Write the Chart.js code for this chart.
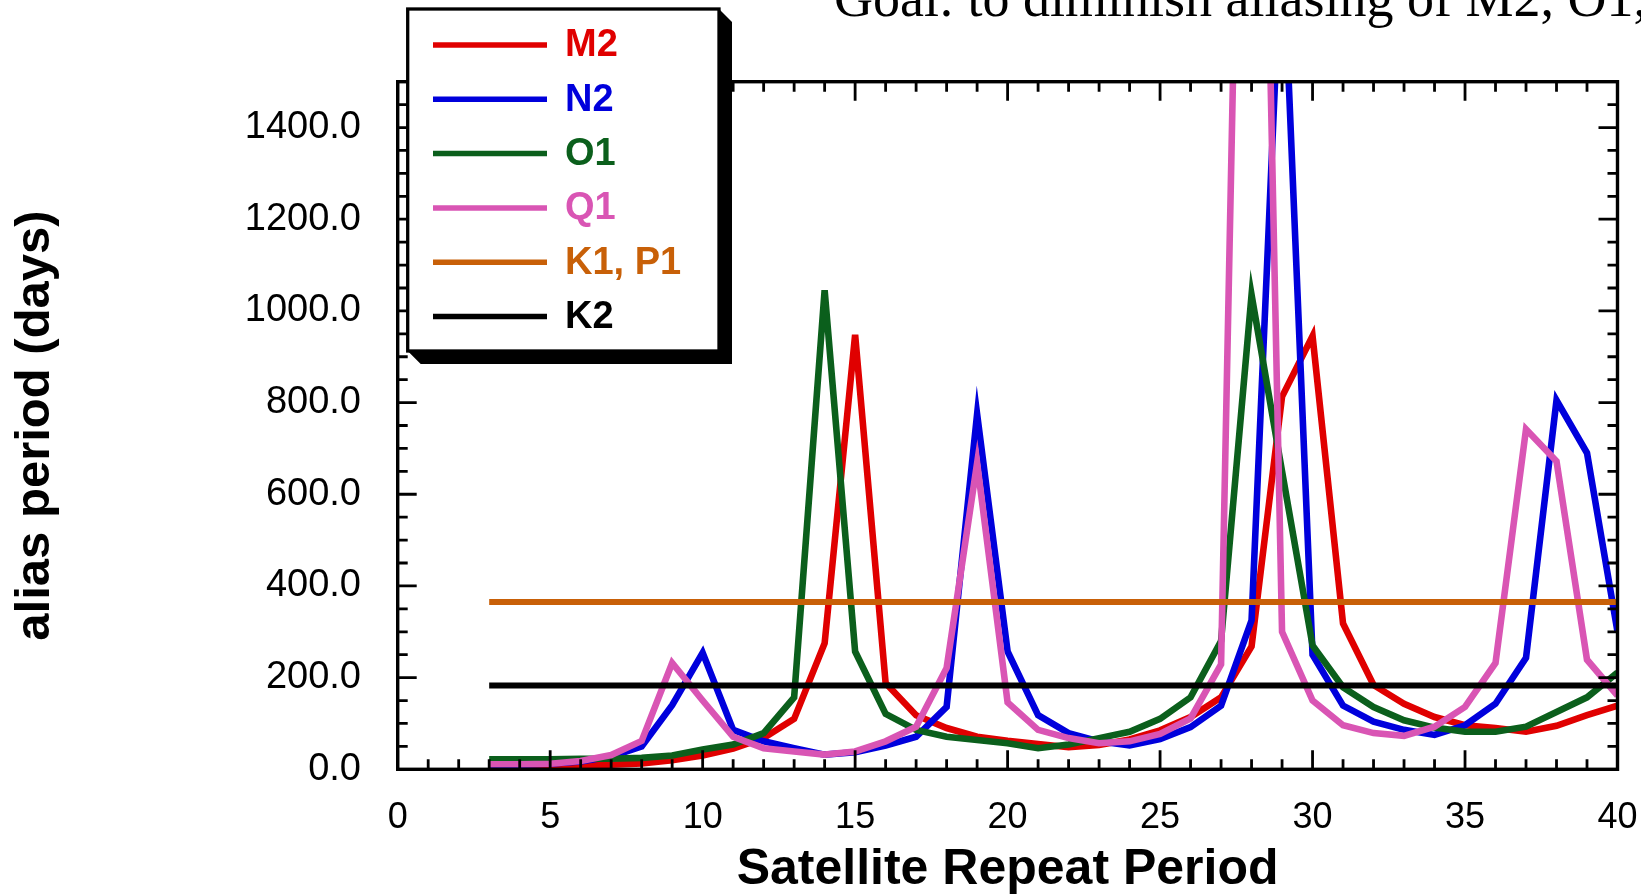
<!DOCTYPE html>
<html>
<head>
<meta charset="utf-8">
<title>Alias periods vs satellite repeat period</title>
<script src="https://cdn.jsdelivr.net/npm/chart.js@4.4.1/dist/chart.umd.min.js"></script>
<style>
  html, body { margin: 0; padding: 0; background: #fff; }
  #wrap { position: relative; width: 1641px; height: 895px; }
</style>
</head>
<body>
<div id="wrap"><canvas id="chart"></canvas></div>
<script>
// repeat period of the satellite (days)
const repeatDays = [3, 4, 5, 6, 7, 8, 9, 10, 11, 12, 13, 14, 15, 16, 17, 18, 19, 20, 21,
  22, 23, 24, 25, 26, 27, 28, 29, 30, 31, 32, 33, 34, 35, 36, 37, 38, 39, 40];

// alias period (days) per constituent
const m2Alias = [6, 6, 7, 8, 10, 13, 20, 30, 45, 68, 110, 275, 948, 188, 118, 90, 71, 62, 55,
  48, 53, 65, 85, 114, 157, 268, 813, 945, 318, 184, 143, 114, 96, 90, 82, 95, 118, 139];
const n2Alias = [10, 10, 12, 17, 28, 50, 140, 254, 86, 61, 46, 32, 37, 52, 71, 136, 775, 257, 118,
  79, 61, 52, 66, 92, 139, 325, 1850, 250, 139, 104, 86, 75, 96, 143, 243, 805, 690, 300];
const o1Alias = [22, 22, 22, 23, 23, 25, 30, 43, 54, 79, 157, 1045, 257, 121, 86, 71, 64, 57, 46,
  54, 68, 82, 110, 157, 280, 1035, 650, 270, 179, 136, 107, 91, 82, 82, 93, 125, 157, 211];
const q1Alias = [11, 11, 12, 18, 31, 62, 232, 150, 71, 46, 39, 32, 39, 61, 93, 221, 668, 146, 86,
  68, 57, 61, 77, 111, 229, 3500, 300, 150, 96, 79, 73, 93, 136, 232, 742, 672, 239, 161];

// K1/P1 and K2 are flat over the whole range
const flatSpan = [3, 40];
const k1p1Alias = [365, 365];
const k2Alias = [183, 183];

const seriesNames = ["M2", "N2", "O1", "Q1", "K1, P1", "K2"];
const seriesColors = ["#e00000", "#0000dc", "#0b5f1c", "#d955b4", "#c86008", "#000000"];
const headline = "Goal: to diminish aliasing of M2, O1,";

const pts = (xs, ys) => xs.map((x, i) => ({ x, y: ys[i] }));

const curves = [
  pts(repeatDays, m2Alias),
  pts(repeatDays, n2Alias),
  pts(repeatDays, o1Alias),
  pts(repeatDays, q1Alias),
  pts(flatSpan, k1p1Alias),
  pts(flatSpan, k2Alias),
];

const sans = "'Liberation Sans', Arial, sans-serif";
Chart.defaults.font.family = sans;
Chart.defaults.color = "#000";

// boxed frame with inward ticks on all four sides
const frameTicks = {
  id: "frameTicks",
  afterDatasetsDraw(chart) {
    const { ctx, chartArea: a, scales: { x, y } } = chart;
    ctx.save();
    ctx.strokeStyle = "#000";
    ctx.lineWidth = 2.8;
    ctx.beginPath();
    for (let v = x.min; v <= x.max; v += 1) {
      const px = x.getPixelForValue(v);
      const len = v % 5 === 0 ? 19 : 10;
      ctx.moveTo(px, a.bottom);
      ctx.lineTo(px, a.bottom - len);
      ctx.moveTo(px, a.top);
      ctx.lineTo(px, a.top + len);
    }
    for (let v = y.min; v <= y.max; v += 50) {
      const py = y.getPixelForValue(v);
      const len = v % 200 === 0 ? 19 : 10;
      ctx.moveTo(a.left, py);
      ctx.lineTo(a.left + len, py);
      ctx.moveTo(a.right, py);
      ctx.lineTo(a.right - len, py);
    }
    ctx.stroke();
    ctx.lineWidth = 3.4;
    ctx.strokeRect(a.left, a.top, a.right - a.left, a.bottom - a.top);
    ctx.restore();
  },
};

// legend in a white box with a black drop shadow
const boxLegend = {
  id: "boxLegend",
  afterDraw(chart) {
    const { ctx } = chart;
    const L = 407.7, T = 9, R = 719, B = 351, D = 13;
    ctx.save();
    ctx.fillStyle = "#000";
    ctx.beginPath();
    ctx.moveTo(R, T);
    ctx.lineTo(R + D, T + D);
    ctx.lineTo(R + D, B + D);
    ctx.lineTo(L + D, B + D);
    ctx.lineTo(L, B);
    ctx.closePath();
    ctx.fill();
    ctx.fillStyle = "#fff";
    ctx.fillRect(L, T, R - L, B - T);
    ctx.strokeStyle = "#000";
    ctx.lineWidth = 3.3;
    ctx.strokeRect(L, T, R - L, B - T);

    ctx.font = `bold 38px ${sans}`;
    ctx.textBaseline = "middle";
    ctx.textAlign = "left";
    chart.data.datasets.forEach((ds, i) => {
      const yy = 45 + i * 54.3;
      ctx.strokeStyle = ds.borderColor;
      ctx.lineWidth = 5.5;
      ctx.beginPath();
      ctx.moveTo(433, yy);
      ctx.lineTo(547, yy);
      ctx.stroke();
      ctx.fillStyle = ds.borderColor;
      ctx.fillText(ds.label, 565, yy + 1);
    });
    ctx.restore();
  },
};

// headline at the top, partly cut by the page edge
const topLine = {
  id: "topLine",
  afterDraw(chart) {
    const { ctx } = chart;
    ctx.save();
    ctx.font = "54px 'Liberation Serif', 'Times New Roman', serif";
    ctx.fillStyle = "#000";
    ctx.textBaseline = "alphabetic";
    ctx.textAlign = "left";
    ctx.fillText(headline, 834, 16);
    ctx.restore();
  },
};

new Chart(document.getElementById("chart"), {
  type: "line",
  data: {
    datasets: curves.map((data, i) => ({
      label: seriesNames[i],
      data,
      borderColor: seriesColors[i],
      backgroundColor: seriesColors[i],
      borderWidth: i < 4 ? 6.6 : 6,
      pointRadius: 0,
      fill: false,
      tension: 0,
      order: 6 - i,
    })),
  },
  options: {
    responsive: true,
    maintainAspectRatio: false,
    animation: false,
    layout: { padding: { top: 81.7, right: 23.5, bottom: 0, left: 0 } },
    plugins: {
      legend: { display: false },
      tooltip: { enabled: false },
    },
    elements: { line: { borderJoinStyle: "miter", borderCapStyle: "butt" } },
    scales: {
      x: {
        type: "linear",
        min: 0,
        max: 40,
        afterFit: (s) => {
          s.height = 125.7;
          s.paddingLeft = 0;
          s.paddingRight = 0;
        },
        grid: { display: false, drawTicks: false },
        border: { display: false },
        ticks: {
          stepSize: 5,
          padding: 27,
          maxRotation: 0,
          autoSkip: false,
          font: { size: 36 },
        },
        title: {
          display: true,
          text: "Satellite Repeat Period",
          font: { size: 50, weight: "bold", lineHeight: 1 },
          padding: { top: 0, bottom: 0 },
        },
      },
      y: {
        type: "linear",
        min: 0,
        max: 1500,
        afterFit: (s) => {
          s.width = 397.7;
          s.paddingTop = 0;
          s.paddingBottom = 0;
        },
        grid: { display: false, drawTicks: false },
        border: { display: false },
        ticks: {
          stepSize: 200,
          includeBounds: false,
          padding: 36.7,
          font: { size: 38 },
          callback: (v) => v.toFixed(1),
        },
        title: {
          display: true,
          text: "alias period (days)",
          font: { size: 49, weight: "bold", lineHeight: 1 },
          padding: { top: 10.5, bottom: 0 },
        },
      },
    },
  },
  plugins: [frameTicks, boxLegend, topLine],
});
</script>
</body>
</html>
